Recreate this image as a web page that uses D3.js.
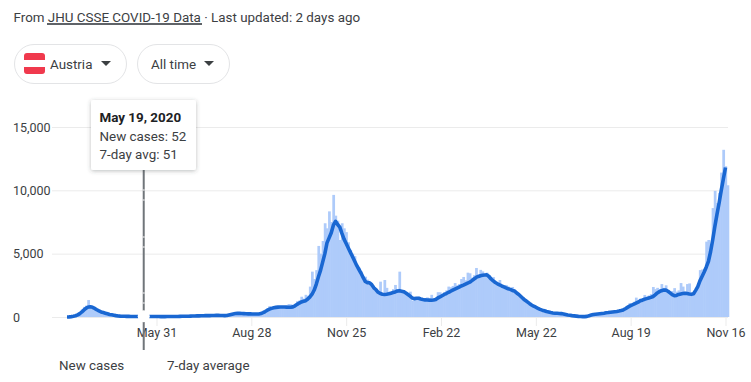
<!DOCTYPE html>
<html>
<head>
<meta charset="utf-8">
<script src="https://cdn.jsdelivr.net/npm/d3@7"></script>
<style>
  html, body { margin: 0; padding: 0; background: #fff; overflow: hidden; }
  svg { display: block; font-family: Roboto, sans-serif; }
</style>
</head>
<body>
<svg id="chart" width="751" height="382"></svg>
<script>
// one value per two days starting Mar 8 2020
const firstDay = new Date(2020, 2, 8);
const newCases = [
  5,15,40,60,110,190,300,600,800,900,
  1340,850,800,700,520,500,420,330,300,260,
  200,170,130,100,90,70,60,60,50,50,
  45,40,50,40,40,50,52,50,40,35,
  40,30,30,30,25,35,30,40,30,45,
  40,50,45,60,50,70,60,65,80,70,
  90,80,100,90,110,100,120,110,130,120,
  140,110,130,100,130,130,200,220,280,290,
  300,310,280,290,250,270,240,260,230,250,
  230,300,380,520,700,860,780,790,770,800,
  860,830,840,810,1020,1000,950,1050,1250,1300,
  1600,1450,1750,1650,2400,3580,3000,3700,5610,5000,
  6000,7400,7000,8340,7500,9640,8000,7600,6080,7400,
  7000,6700,5900,5300,5000,4800,4100,3900,3600,3200,
  3180,2950,2700,2500,2350,2150,2050,2790,1800,2920,
  2300,1750,1900,2200,2530,2200,3580,2100,2050,1900,
  1850,2000,1300,1500,1550,1600,1450,1450,1400,1550,
  1400,1750,1350,1450,1960,1950,1800,1950,2100,2400,
  2350,2450,2680,2500,2600,3000,3160,2900,3500,3450,
  3100,3300,3870,3250,3720,3600,3400,3500,3300,3100,
  3150,2800,2700,2920,2500,2500,2530,2400,2250,2370,
  2150,2000,1800,1650,1500,1380,1250,1100,1000,900,
  820,720,650,580,540,480,430,400,360,330,
  320,300,280,260,220,180,150,120,100,85,
  65,45,40,40,70,120,170,210,240,270,
  290,310,330,350,390,400,430,450,480,520,
  530,560,700,850,1100,1000,1200,1530,1300,1450,
  1500,1740,1600,1700,1800,2370,2200,2300,2200,2600,
  2300,2500,2100,1800,2050,2280,2000,2100,2680,2400,
  2000,2600,2650,1900,1850,2000,2400,3700,3750,3800,
  5950,6080,5500,8600,9960,9000,9800,11400,13200,11900,
  10400
];
const sevenDayAvg = [
  5,10,30,60,100,170,270,400,560,700,
  790,800,760,680,570,480,400,350,300,250,
  200,170,140,110,85,70,60,55,50,50,
  45,45,45,40,40,45,50,50,45,40,
  40,35,35,35,30,30,30,35,35,40,
  40,45,45,50,55,60,60,65,70,75,
  80,85,90,95,100,105,105,110,115,120,
  125,125,120,115,110,120,160,200,240,270,
  285,290,280,270,260,250,245,240,240,235,
  240,270,340,430,530,620,680,730,760,780,
  790,790,785,780,775,770,800,880,1000,1100,
  1190,1240,1290,1420,1590,1800,2130,2600,3180,3700,
  4350,5000,5850,6250,6650,7250,7550,7300,7100,6600,
  6150,5800,5450,5100,4750,4400,4050,3750,3450,3100,
  2800,2700,2700,2550,2300,2150,1950,1850,1800,1780,
  1800,1830,1880,1930,1980,2050,2080,2040,2000,1900,
  1780,1650,1500,1450,1480,1480,1420,1380,1350,1340,
  1330,1320,1340,1380,1500,1580,1680,1780,1850,1950,
  2030,2120,2200,2280,2360,2450,2520,2600,2680,2750,
  2870,3000,3120,3200,3260,3300,3320,3330,3200,3000,
  2850,2720,2620,2530,2450,2380,2300,2230,2180,2100,
  2050,1900,1780,1620,1460,1320,1200,1070,950,850,
  770,680,600,540,490,430,390,350,320,300,
  290,280,270,240,200,160,140,110,90,70,
  50,35,30,30,50,100,150,190,220,240,
  260,280,300,330,350,380,400,420,440,470,
  510,560,650,760,860,940,1010,1090,1170,1280,
  1330,1400,1450,1500,1550,1620,1750,1900,2000,2080,
  2130,2120,2030,1900,1760,1680,1700,1780,1820,1850,
  1870,1850,1810,1790,1830,2100,2400,2850,3200,3550,
  3950,4400,5150,6100,7150,8100,9000,10000,10900,11800
];
const yTicks = [0, 5000, 10000, 15000];
const xTickDates = ["2020-05-31", "2020-08-28", "2020-11-25", "2021-02-22", "2021-05-22", "2021-08-19", "2021-11-16"];
const xTickLabels = ["May 31", "Aug 28", "Nov 25", "Feb 22", "May 22", "Aug 19", "Nov 16"];
const legendLabels = ["New cases", "7-day average"];
const tooltipDate = "2020-05-19";
const tooltipLines = ["May 19, 2020", "New cases: 52", "7-day avg: 51"];

const parseDay = d3.timeParse("%Y-%m-%d");
const dayOf = i => d3.timeDay.offset(firstDay, i * 2);

const svg = d3.select("#chart");

const x = d3.scaleTime()
  .domain([firstDay, parseDay("2021-11-16")])
  .range([67, 725.5]);
const y = d3.scaleLinear().domain([0, 15000]).range([317, 127]);

const barWidth = x(dayOf(1)) - x(dayOf(0));

// shadow for tooltip
const defs = svg.append("defs");
const shadow = defs.append("filter").attr("id", "tipShadow")
  .attr("x", "-20%").attr("y", "-20%").attr("width", "140%").attr("height", "150%");
shadow.append("feDropShadow")
  .attr("dx", 0).attr("dy", 1).attr("stdDeviation", 2)
  .attr("flood-color", "#3c4043").attr("flood-opacity", 0.35);

// header
const header = svg.append("text")
  .attr("x", 13.5).attr("y", 22)
  .attr("font-size", 13.4).attr("fill", "#3c4043");
header.append("tspan").text("From ");
header.append("tspan").text("JHU CSSE COVID-19 Data");
header.append("tspan").text(" · Last updated: 2 days ago");
svg.append("line")
  .attr("x1", 47).attr("x2", 202).attr("y1", 24).attr("y2", 24)
  .attr("stroke", "#5f6368").attr("stroke-width", 2);

// filter chips
const chips = [
  { x: 14, w: 113, label: "Austria", tx: 50, ax: 106 },
  { x: 137, w: 93, label: "All time", tx: 151, ax: 209 }
];
const chip = svg.selectAll("g.chip").data(chips).join("g").attr("class", "chip");
chip.append("rect")
  .attr("x", d => d.x + 0.5).attr("y", 44.5)
  .attr("width", d => d.w - 1).attr("height", 39).attr("rx", 19.5)
  .attr("fill", "#fff").attr("stroke", "#e3e4e6");
chip.append("text")
  .attr("x", d => d.tx).attr("y", 69)
  .attr("font-size", 13.4).attr("fill", "#3c4043")
  .text(d => d.label);
chip.append("path")
  .attr("d", d => `M${d.ax - 5},61 h10 l-5,5 z`)
  .attr("fill", "#3c4043");

// flag
svg.append("rect").attr("x", 24).attr("y", 53).attr("width", 21).attr("height", 21)
  .attr("rx", 3).attr("fill", "#f0394d");
svg.append("rect").attr("x", 24).attr("y", 60).attr("width", 21).attr("height", 7)
  .attr("fill", "#fff");

// y axis, ticks double as grid lines
const yAxis = svg.append("g")
  .attr("transform", "translate(728,0)")
  .call(d3.axisLeft(y).tickValues(yTicks).tickSize(676).tickFormat(d3.format(",")));
yAxis.select(".domain").remove();
yAxis.selectAll("line").attr("stroke", "#ebebeb");
yAxis.selectAll("text")
  .attr("text-anchor", "start")
  .attr("x", -715)
  .attr("dy", "0.34em")
  .attr("font-family", "Roboto, sans-serif")
  .attr("font-size", 12.5)
  .attr("fill", "#3c4043");

// bars, a little overlap so no seams show
svg.append("g").selectAll("rect")
  .data(newCases)
  .join("rect")
  .attr("x", (d, i) => x(dayOf(i)) - barWidth / 2)
  .attr("y", d => y(d))
  .attr("width", barWidth + 0.6)
  .attr("height", d => y(0) - y(d))
  .attr("fill", "#aecbfa");

// x axis
const xAxis = svg.append("g")
  .attr("transform", "translate(0,317)")
  .call(d3.axisBottom(x)
    .tickValues(xTickDates.map(parseDay))
    .tickSize(9)
    .tickPadding(2)
    .tickFormat((d, i) => xTickLabels[i]));
xAxis.select(".domain").remove();
xAxis.selectAll("line").attr("stroke", "#ebebeb");
xAxis.selectAll("text")
  .attr("font-family", "Roboto, sans-serif")
  .attr("font-size", 12.5)
  .attr("fill", "#3c4043");

// 7-day average
const line = d3.line()
  .x((d, i) => x(dayOf(i)))
  .y(d => y(d));
svg.append("path")
  .datum(sevenDayAvg)
  .attr("d", line)
  .attr("fill", "none")
  .attr("stroke", "#1967d2")
  .attr("stroke-width", 3.6)
  .attr("stroke-linejoin", "round");

// hover line and dot
const hoverX = x(parseDay(tooltipDate));
svg.append("line")
  .attr("x1", hoverX).attr("x2", hoverX)
  .attr("y1", 170).attr("y2", 350)
  .attr("stroke", "#70757a").attr("stroke-width", 2);
svg.selectAll("line.gap").data([190, 200, 237, 247, 293, 303]).join("line")
  .attr("class", "gap")
  .attr("x1", hoverX - 1).attr("x2", hoverX + 1)
  .attr("y1", d => d).attr("y2", d => d)
  .attr("stroke", "#fff").attr("stroke-width", 1);
svg.append("circle")
  .attr("cx", hoverX).attr("cy", y(51)).attr("r", 6)
  .attr("fill", "#fff");

// tooltip
svg.append("rect")
  .attr("x", 91).attr("y", 100).attr("width", 105).attr("height", 70).attr("rx", 2)
  .attr("fill", "#fff")
  .attr("filter", "url(#tipShadow)");
svg.selectAll("text.tip").data(tooltipLines).join("text")
  .attr("class", "tip")
  .attr("x", 99.5)
  .attr("y", (d, i) => [122, 141, 159][i])
  .attr("font-size", 13.4)
  .attr("font-weight", (d, i) => i === 0 ? 700 : 400)
  .attr("fill", (d, i) => i === 0 ? "#202124" : "#3c4043")
  .text(d => d);

// legend
svg.selectAll("text.legend").data(legendLabels).join("text")
  .attr("class", "legend")
  .attr("x", (d, i) => [59, 167][i])
  .attr("y", 370)
  .attr("font-size", 13.4)
  .attr("fill", "#3c4043")
  .text(d => d);
</script>
</body>
</html>
